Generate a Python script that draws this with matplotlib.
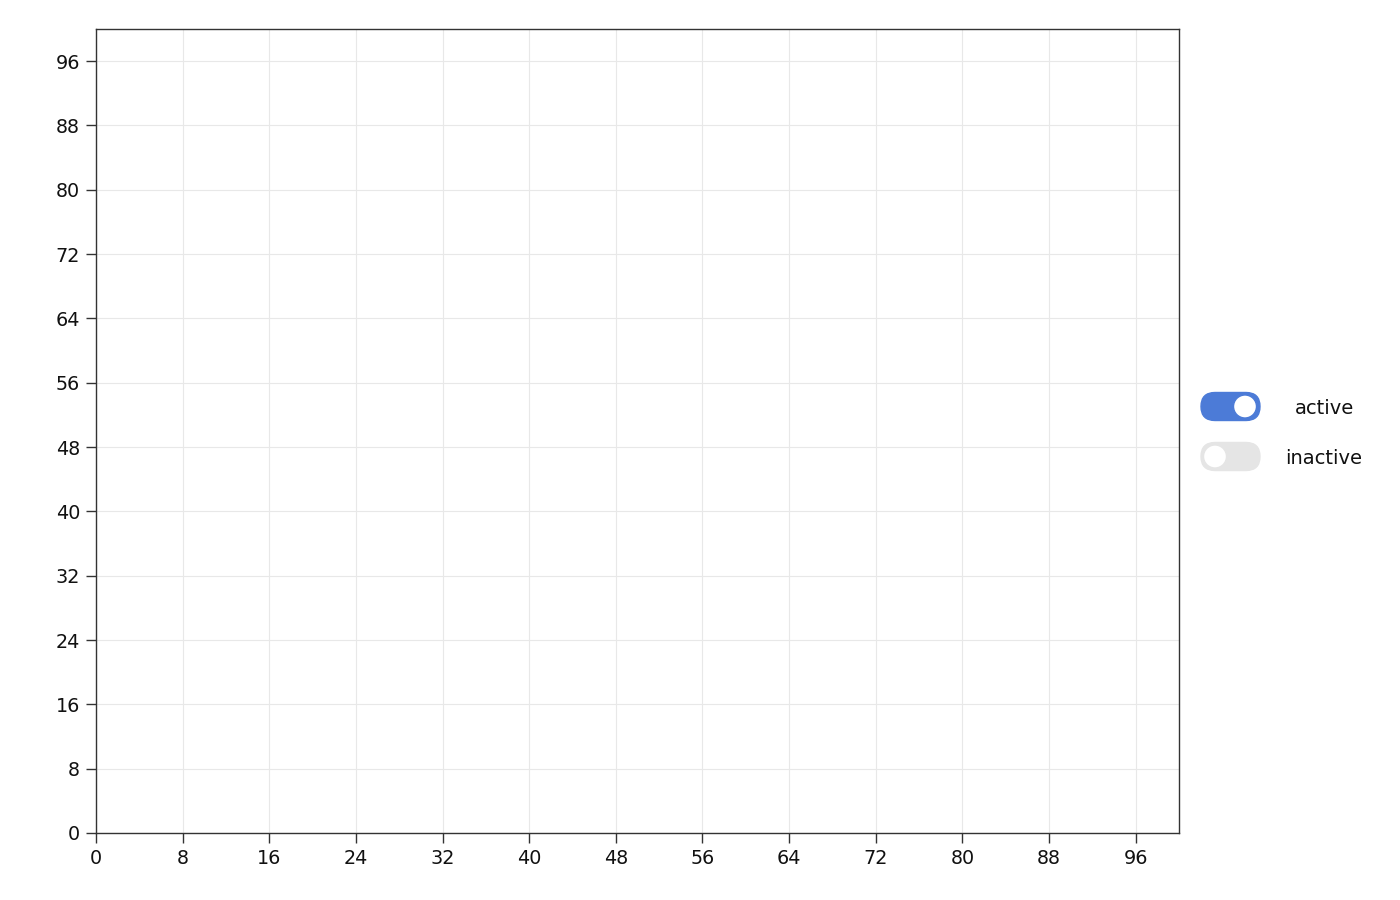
import matplotlib
matplotlib.use("Agg")
import matplotlib.pyplot as plt
from matplotlib.patches import FancyBboxPatch, Circle

plt.rcParams["font.family"] = ["DejaVu Sans"]

# ---- data ----
x_ticks = [0, 8, 16, 24, 32, 40, 48, 56, 64, 72, 80, 88, 96]
y_ticks = [0, 8, 16, 24, 32, 40, 48, 56, 64, 72, 80, 88, 96]
x_limits = [0, 100]
y_limits = [0, 100]
legend_labels = ["active", "inactive"]
legend_states = [True, False]

ON_COLOR = "#4c7bd7"
OFF_COLOR = "#e5e5e5"

fig = plt.figure(figsize=(14, 9), dpi=100)
ax = fig.add_axes([96/1400, 1-833/900, (1179-96)/1400, (833-29)/900])
ax.set_xlim(*x_limits)
ax.set_ylim(*y_limits)
ax.set_xticks(x_ticks)
ax.set_yticks(y_ticks)
ax.grid(True, color="#e8e8e8", linewidth=0.8)
ax.set_axisbelow(True)
for s in ax.spines.values():
    s.set_color("#333333")
    s.set_linewidth(1.0)
ax.tick_params(axis="both", direction="out", length=7, width=1, color="#333333",
               labelsize=13.8, pad=4.5, labelcolor="#111111")

# overlay in pixel coordinates for the toggle legend
ov = fig.add_axes([0, 0, 1, 1])
ov.set_xlim(0, 1400)
ov.set_ylim(900, 0)
ov.axis("off")
ov.patch.set_alpha(0)

y0 = 406.5
dy = 50
for i, (lab, on) in enumerate(zip(legend_labels, legend_states)):
    cy = y0 + i * dy
    h = 28
    w = 59
    x0 = 1201
    col = ON_COLOR if on else OFF_COLOR
    pill = FancyBboxPatch((x0, cy - h/2), w, h,
                          boxstyle=f"round,pad=0,rounding_size={h/2}",
                          facecolor=col, edgecolor=col, linewidth=1)
    ov.add_patch(pill)
    cx = x0 + w - h/2 - 1 if on else x0 + h/2
    circ = Circle((cx, cy), 11.5, facecolor="white", edgecolor=col, linewidth=1)
    ov.add_patch(circ)
    ov.text(1324, cy + 1.5, lab, ha="center", va="center", fontsize=14, color="#111111")

fig.savefig("out.png", dpi=100)
